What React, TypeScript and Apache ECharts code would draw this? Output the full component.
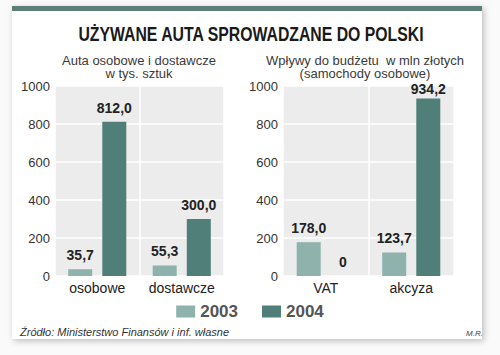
import React, { useEffect, useRef } from "react";
import * as echarts from "echarts";

const titleText = "UŻYWANE AUTA SPROWADZANE DO POLSKI";
const leftSubtitle = ["Auta osobowe i dostawcze", "w tys. sztuk"];
const rightSubtitle = ["Wpływy do budżetu  w mln złotych", "(samochody osobowe)"];
const leftCategories = ["osobowe", "dostawcze"];
const rightCategories = ["VAT", "akcyza"];
const seriesNames = ["2003", "2004"];
const left2003 = [35.7, 55.3];
const left2004 = [812.0, 300.0];
const right2003 = [178.0, 123.7];
const right2004 = [0, 934.2];
const yTicks = { min: 0, max: 1000, interval: 200 };
const sourceText = "Źródło: Ministerstwo Finansów i inf. własne";
const authorText = "M.R.";

const C2003 = "#8fb2ad";
const C2004 = "#4f7f78";
const FONT = "'Liberation Sans', Arial, sans-serif";

const fmt = (p: any) => {
  const v = p.value as number;
  return v === 0 ? "0" : v.toFixed(1).replace(".", ",");
};

// labels of very tall bars sit a little closer to the bar top
const toItems = (arr: number[]) =>
  arr.map((v) => (v > 900 ? { value: v, label: { distance: 3 } } : v));

export default function App() {
  const ref = useRef<HTMLDivElement>(null);
  useEffect(() => {
    if (!ref.current) return;
    const chart = echarts.init(ref.current, null, { renderer: "svg" });
    const gridCommon = {
      top: 86,
      height: 190,
      show: true,
      backgroundColor: "#ececec",
      borderWidth: 0,
    };
    const xAxisCommon = {
      type: "category" as const,
      axisLine: { show: false },
      axisTick: { show: false },
      axisLabel: { interval: 0, fontSize: 14, color: "#222", margin: 5, fontFamily: FONT },
      splitLine: { show: true, interval: 0, lineStyle: { color: "#ffffff", width: 1.5 } },
    };
    const yAxisCommon = {
      type: "value" as const,
      min: yTicks.min,
      max: yTicks.max,
      interval: yTicks.interval,
      axisLine: { show: false },
      axisTick: { show: false },
      axisLabel: {
        fontSize: 13,
        color: "#333",
        margin: 5,
        fontFamily: FONT,
        formatter: (v: number) => String(v),
      },
      splitLine: { show: true, lineStyle: { color: "#ffffff", width: 1.5 } },
    };
    const labelCommon = {
      show: true,
      position: "top" as const,
      distance: 7,
      fontSize: 14,
      fontWeight: "bold" as const,
      color: "#222",
      fontFamily: FONT,
      formatter: fmt,
    };
    const barCommon = {
      type: "bar" as const,
      barWidth: 24,
      barGap: "42%",
      label: labelCommon,
    };
    chart.setOption({
      animation: false,
      backgroundColor: "#fafafa",
      textStyle: { fontFamily: FONT },
      graphic: [
        {
          type: "rect",
          z: -100,
          shape: { x: 12, y: 6, width: 470, height: 333 },
          style: {
            fill: "#ffffff",
            shadowBlur: 6,
            shadowColor: "rgba(0,0,0,0.25)",
            shadowOffsetX: 2,
            shadowOffsetY: 2,
          },
        },
        {
          type: "rect",
          z: -90,
          shape: { x: 12, y: 6, width: 470, height: 5 },
          style: { fill: "#5e7f77" },
        },
        {
          type: "text",
          x: 251,
          y: 34,
          scaleX: 0.79,
          style: {
            text: titleText,
            align: "center",
            verticalAlign: "middle",
            fontSize: 20,
            fontWeight: "bold",
            fontFamily: FONT,
            fill: "#1a1a1a",
          },
        },
        ...leftSubtitle.map((t, i) => ({
          type: "text",
          x: 139,
          y: 60 + i * 13.5,
          style: {
            text: t,
            align: "center",
            verticalAlign: "middle",
            fontSize: 13,
            fontFamily: FONT,
            fill: "#3a3a3a",
          },
        })),
        ...rightSubtitle.map((t, i) => ({
          type: "text",
          x: 365,
          y: 60 + i * 13.5,
          style: {
            text: t,
            align: "center",
            verticalAlign: "middle",
            fontSize: 13,
            fontFamily: FONT,
            fill: "#3a3a3a",
          },
        })),
        {
          type: "text",
          x: 20,
          y: 332,
          style: {
            text: sourceText,
            align: "left",
            verticalAlign: "middle",
            fontSize: 11,
            fontStyle: "italic",
            fontFamily: FONT,
            fill: "#333",
          },
        },
        {
          type: "text",
          x: 483,
          y: 333,
          style: {
            text: authorText,
            align: "right",
            verticalAlign: "middle",
            fontSize: 8,
            fontStyle: "italic",
            fontFamily: FONT,
            fill: "#444",
          },
        },
      ],
      legend: {
        data: seriesNames,
        left: "center",
        top: 298,
        itemWidth: 19,
        itemHeight: 12,
        itemGap: 24,
        icon: "rect",
        textStyle: { fontSize: 17, fontWeight: "bold", color: "#555", fontFamily: FONT },
      },
      grid: [
        { ...gridCommon, left: 55, width: 169 },
        { ...gridCommon, left: 283, width: 171 },
      ],
      xAxis: [
        { ...xAxisCommon, gridIndex: 0, data: leftCategories },
        { ...xAxisCommon, gridIndex: 1, data: rightCategories },
      ],
      yAxis: [
        { ...yAxisCommon, gridIndex: 0 },
        { ...yAxisCommon, gridIndex: 1 },
      ],
      series: [
        { ...barCommon, name: seriesNames[0], xAxisIndex: 0, yAxisIndex: 0, data: toItems(left2003), itemStyle: { color: C2003 } },
        { ...barCommon, name: seriesNames[1], xAxisIndex: 0, yAxisIndex: 0, data: toItems(left2004), itemStyle: { color: C2004 } },
        { ...barCommon, name: seriesNames[0], xAxisIndex: 1, yAxisIndex: 1, data: toItems(right2003), itemStyle: { color: C2003 } },
        { ...barCommon, name: seriesNames[1], xAxisIndex: 1, yAxisIndex: 1, data: toItems(right2004), itemStyle: { color: C2004 } },
      ],
    });
    return () => chart.dispose();
  }, []);
  return (
    <div
      ref={ref}
      style={{ position: "fixed", left: 0, top: 0, width: 500, height: 355 }}
    />
  );
}
